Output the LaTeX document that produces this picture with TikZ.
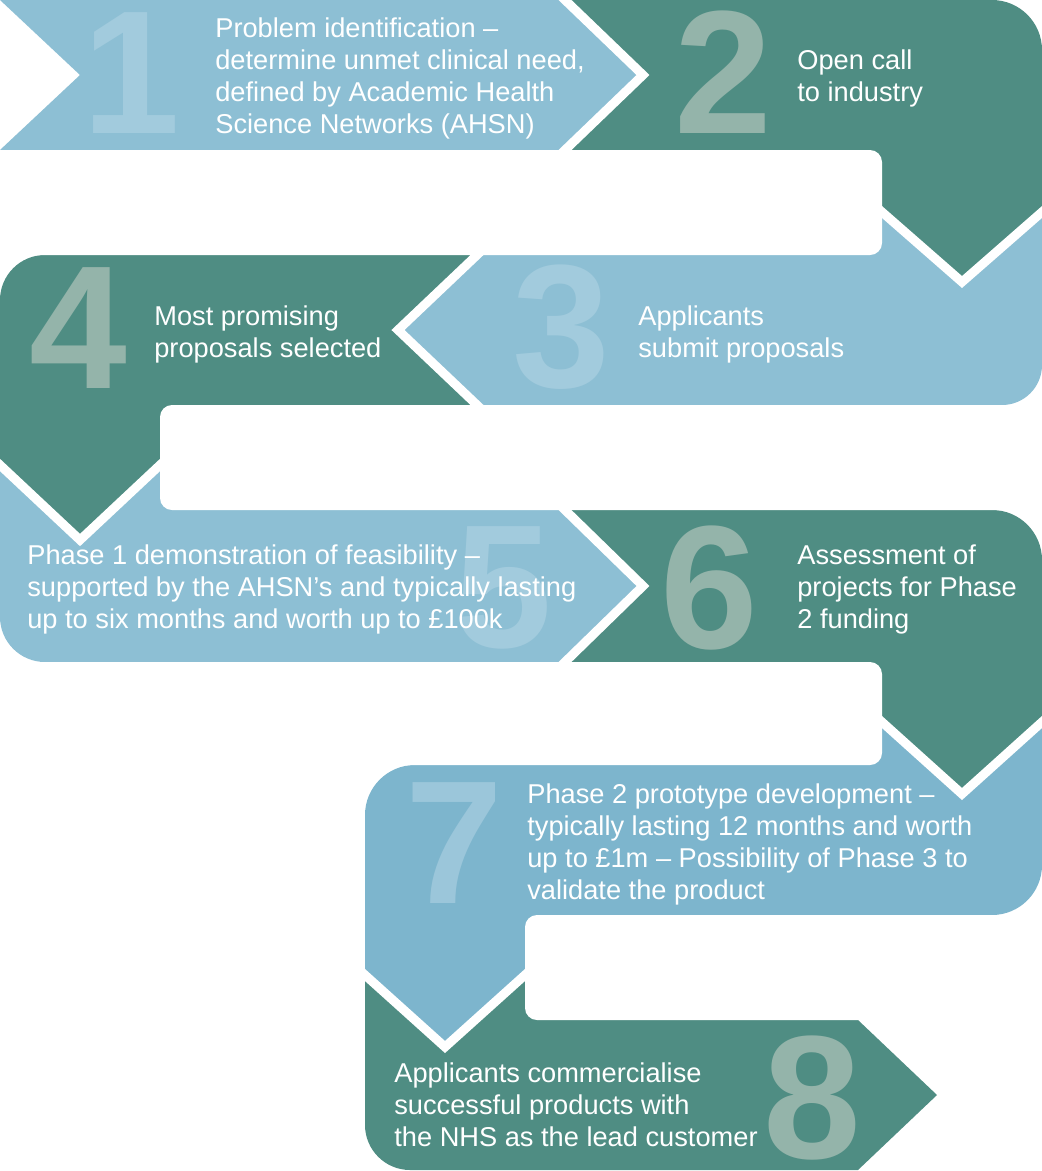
\documentclass[tikz,border=0pt]{standalone}
\usepackage{fontspec}
\setmainfont{Liberation Sans}
\usepackage{tikz}
\usetikzlibrary{positioning}
\usepackage{xcolor}
\definecolor{paleblue}{RGB}{141,191,212}
\definecolor{midblue}{RGB}{125,181,205}
\definecolor{seateal}{RGB}{79,141,131}
\definecolor{tealdigit}{RGB}{148,180,170}
\definecolor{bluedigit}{RGB}{162,203,221}
\definecolor{middigit}{RGB}{155,198,218}

\begin{document}
\begin{tikzpicture}[
    x=0.02cm, y=-0.02cm,
    gap/.style = {fill=white, rounded corners=0.24cm},
    cut/.style = {draw=white, line width=0.18cm, line cap=rect, line join=miter},
    digit/.style = {anchor=base, inner sep=0pt, font=\fontsize{100pt}{100pt}\selectfont\bfseries},
    blurb/.style = {anchor=north west, inner sep=0pt, align=left, text=white, font=\fontsize{15.5pt}{18.2pt}\selectfont}
]
\useasboundingbox (0,0) rectangle (1042,1171);
\clip (0,0) rectangle (1042,1171);

% Bands, last step first
\fill[seateal] (365,915) -- (858,915) -- (858,1020) -- (937,1095) -- (858,1170) -- (410,1170) .. controls (385.2,1170) and (365,1149.8) .. (365,1125) -- cycle;
\fill[midblue] (882,700) -- (1042,700) -- (1042,865) .. controls (1042,892.6) and (1019.6,915) .. (992,915) -- (900,915) -- (900,940) -- (525,940) -- (525,975) -- (445,1047) -- (365,975) -- (365,815) .. controls (365,787.4) and (387.4,765) .. (415,765) -- (500,765) -- (500,740) -- (882,740) -- cycle;
\fill[seateal] (565,510) -- (992,510) .. controls (1019.6,510) and (1042,532.4) .. (1042,560) -- (1042,722) -- (962,794) -- (882,722) -- (882,690) -- (565,690) -- cycle;
\fill[paleblue] (0,440) -- (565,440) -- (565,510) -- (643,586) -- (565,662) -- (45,662) .. controls (20.2,662) and (0,641.8) .. (0,617) -- cycle;
\fill[seateal] (0,300) .. controls (0,275.2) and (20.2,255) .. (45,255) -- (477,255) -- (477,430) -- (160,430) -- (160,465) -- (80,540) -- (0,465) -- cycle;
\fill[paleblue] (398,330) -- (477,255) -- (477,225) -- (882,225) -- (882,200) -- (1042,200) -- (1042,365) .. controls (1042,387.1) and (1024.1,405) .. (1002,405) -- (477,405) -- cycle;
\fill[seateal] (565,0) -- (992,0) .. controls (1019.6,0) and (1042,22.4) .. (1042,50) -- (1042,212) -- (962,282) -- (882,212) -- (882,180) -- (565,180) -- cycle;
\fill[paleblue] (0,0) -- (565,0) -- (643,75) -- (565,150) -- (0,150) -- (80,75) -- cycle;

% White gaps between the rows
\fill[gap] (-20,150) rectangle (882,255);
\fill[gap] (160,405) rectangle (1062,510);
\fill[gap] (-20,662) rectangle (882,765);
\fill[gap] (525,915) rectangle (1062,1020);

% Chevron cuts
\draw[cut] (565,0) -- (643,75) -- (565,150);
\draw[cut] (882,212) -- (962,282) -- (1042,212);
\draw[cut] (477,255) -- (398,330) -- (477,405);
\draw[cut] (0,465) -- (80,540) -- (160,465);
\draw[cut] (565,510) -- (643,586) -- (565,662);
\draw[cut] (882,722) -- (962,794) -- (1042,722);
\draw[cut] (365,975) -- (445,1047) -- (525,975);

% Step numbers
\node (n1) [digit, text=bluedigit] at (131,133) {1};
\node (n2) [digit, text=tealdigit] at (723,133) {2};
\node (n3) [digit, text=bluedigit] at (561,387) {3};
\node (n4) [digit, text=tealdigit] at (78,388) {4};
\node (n5) [digit, text=bluedigit] at (503,647) {5};
\node (n6) [digit, text=tealdigit] at (709,648) {6};
\node (n7) [digit, text=middigit] at (454,903) {7};
\node (n8) [digit, text=tealdigit] at (812,1158) {8};

% Step texts
\node (t1) [blurb] at (215,17) {Problem identification –\\determine unmet clinical need,\\defined by Academic Health\\Science Networks (AHSN)};
\node (t2) [blurb] at (797,49) {Open call\\to industry};
\node (t3) [blurb] at (638,305) {Applicants\\submit proposals};
\node (t4) [blurb] at (154,305) {Most promising\\proposals selected};
\node (t5) [blurb] at (27,544) {Phase 1 demonstration of feasibility –\\supported by the AHSN’s and typically lasting\\up to six months and worth up to £100k};
\node (t6) [blurb] at (797,544) {Assessment of\\projects for Phase\\2 funding};
\node (t7) [blurb] at (527,783) {Phase 2 prototype development –\\typically lasting 12 months and worth\\up to £1m – Possibility of Phase 3 to\\validate the product};
\node (t8) [blurb] at (394,1062) {Applicants commercialise\\successful products with\\the NHS as the lead customer};

\end{tikzpicture}
\end{document}
